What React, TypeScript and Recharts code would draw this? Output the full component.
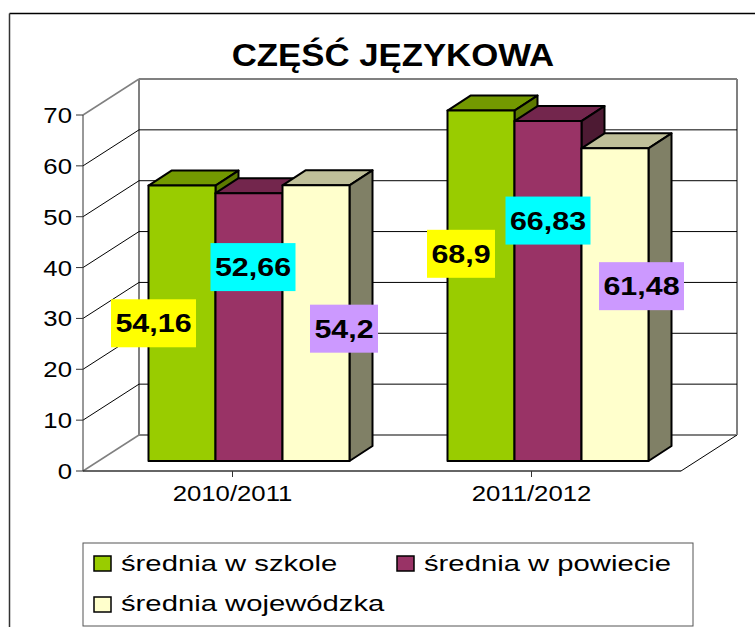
import React from "react"
import { BarChart, Bar, XAxis, YAxis, CartesianGrid, LabelList, Legend } from "recharts"

const years = ["2010/2011", "2011/2012"]
const szkola = [54.16, 68.9]
const powiat = [52.66, 66.83]
const wojewodztwo = [54.2, 61.48]
const yTicks = [0, 10, 20, 30, 40, 50, 60, 70]
const title = "CZĘŚĆ JĘZYKOWA"

const data = years.map((year, i) => ({
  year,
  szkola: szkola[i],
  powiat: powiat[i],
  wojewodztwo: wojewodztwo[i],
}))

const FONT = "'Liberation Sans', Arial, sans-serif"
// the source picture is stretched sideways a bit
const STRETCH = 1.17

// 3D look: back wall offset and bar depth
const WALL = { dx: 56, dy: -36 }
const DEPTH = { dx: 23, dy: -15 }
const BAR_SHIFT = { dx: 16, dy: -10 }
const PLOT_W = 598
const PLOT_H = 356

// hand-moved data labels, offset from the middle of each bar
const szkolaOffsets = [[-28.5, 0], [-20, -32]]
const powiatOffsets = [[4, -60], [0, -70.5]]
const wojOffsets = [[28, 5.5], [26.5, -18.5]]

// where each legend entry goes
const legendSpots = [
  { sx: 94, sy: 556, tx: 121, ty: 571 },
  { sx: 397, sy: 556, tx: 424, ty: 571 },
  { sx: 94, sy: 597, tx: 121, ty: 611 },
]

const SText = ({ x, y, size, bold, children, anchor = "middle", stretch = STRETCH }: any) => (
  <text
    transform={`translate(${x},${y}) scale(${stretch},1)`}
    textAnchor={anchor}
    fontFamily={FONT}
    fontSize={size}
    fontWeight={bold ? 700 : 400}
    fill="#000"
  >
    {children}
  </text>
)

const Bar3D = (props: any) => {
  const { x, y, width, height, fill, topFill, sideFill } = props
  const l = x + BAR_SHIFT.dx
  const t = y + BAR_SHIFT.dy
  const r = l + width
  const b = t + height
  const { dx, dy } = DEPTH
  return (
    <g stroke="#000" strokeWidth={2} strokeLinejoin="round">
      <polygon points={`${l},${t} ${l + dx},${t + dy} ${r + dx},${t + dy} ${r},${t}`} fill={topFill} />
      <polygon points={`${r},${t} ${r + dx},${t + dy} ${r + dx},${b + dy} ${r},${b}`} fill={sideFill} />
      <rect x={l} y={t} width={width} height={height} fill={fill} />
    </g>
  )
}

const makeLabel = (bg: string, offsets: number[][]) => (props: any) => {
  const { x, y, width, height, value, index } = props
  const text = String(value).replace(".", ",")
  const cx = x + BAR_SHIFT.dx + width / 2 + offsets[index][0]
  const cy = y + BAR_SHIFT.dy + height / 2 + offsets[index][1]
  const w = text.length >= 5 ? 85 : 68
  const h = 48
  return (
    <g>
      <rect x={cx - w / 2} y={cy - h / 2} width={w} height={h} fill={bg} />
      <SText x={cx} y={cy + 9} size={26} bold>
        {text}
      </SText>
    </g>
  )
}

// one grid line = diagonal on the side wall + line on the back wall
const WallLine = (props: any) => {
  const { x1, y1 } = props
  const bx = x1 + WALL.dx
  const by = y1 + WALL.dy
  const isTop = Math.abs(y1 - 115) < 1
  const isFloor = Math.abs(y1 - 471) < 1
  const grey = isTop || isFloor
  return (
    <g>
      <line x1={x1} y1={y1} x2={bx} y2={by} stroke={grey ? "#808080" : "#000"} strokeWidth={grey ? 1.5 : 1} />
      <line x1={bx} y1={by} x2={bx + PLOT_W} y2={by} stroke={grey ? "#808080" : "#000"} strokeWidth={grey ? 2 : 1} />
      {isFloor && (
        <>
          <line x1={x1 + PLOT_W} y1={y1} x2={bx + PLOT_W} y2={by} stroke="#000" strokeWidth={1} />
          <line x1={bx} y1={by} x2={bx} y2={by - PLOT_H} stroke="#808080" strokeWidth={2} />
          <line x1={bx + PLOT_W} y1={by} x2={bx + PLOT_W} y2={by - PLOT_H} stroke="#808080" strokeWidth={2} />
        </>
      )}
    </g>
  )
}

const YTick = ({ x, y, payload }: any) => (
  <SText x={x - 2} y={y + 8} size={22} anchor="end">
    {payload.value}
  </SText>
)

const XTick = ({ x, y, payload }: any) => (
  <SText x={x} y={y + 22} size={22}>
    {payload.value}
  </SText>
)

const LegendBox = ({ payload }: any) => (
  <svg width={755} height={627} style={{ position: "absolute", left: 0, top: 0 }}>
    <rect x={83} y={543} width={610} height={83} fill="#fff" stroke="#555" strokeWidth={1} />
    {(payload || []).map((it: any, i: number) => (
      <g key={it.value}>
        <rect x={legendSpots[i].sx} y={legendSpots[i].sy} width={17} height={15} fill={it.color} stroke="#000" strokeWidth={1.5} />
        <SText x={legendSpots[i].tx} y={legendSpots[i].ty} size={22} anchor="start" stretch={1.33}>
          {it.value}
        </SText>
      </g>
    ))}
  </svg>
)

export default function App() {
  return (
    <div style={{ position: "absolute", left: 0, top: 0, width: 755, height: 627, background: "#fff", overflow: "hidden" }}>
      <BarChart
        width={755}
        height={627}
        data={data}
        margin={{ top: 115, right: 74, bottom: 126, left: 0 }}
        barCategoryGap={49.5}
        barGap={0}
      >
        <text transform="translate(393,66) scale(1.14,1)" textAnchor="middle" fontFamily={FONT} fontSize={30.5} fontWeight={700} fill="#000">
          {title}
        </text>
        <line x1={9.5} y1={13.5} x2={755} y2={13.5} stroke="#000" strokeWidth={1.5} />
        <line x1={9.5} y1={13.5} x2={9.5} y2={627} stroke="#333" strokeWidth={1.5} />
        <CartesianGrid horizontal={(p: any) => <WallLine key={p.key} {...p} />} vertical={false} />
        <XAxis
          dataKey="year"
          height={30}
          axisLine={{ stroke: "#333", strokeWidth: 1.5 }}
          tickLine={{ stroke: "#333", strokeWidth: 1 }}
          tickSize={6}
          tick={<XTick />}
          interval={0}
        />
        <YAxis
          width={83}
          domain={[0, 70]}
          ticks={yTicks}
          axisLine={{ stroke: "#333", strokeWidth: 1 }}
          tickLine={{ stroke: "#333", strokeWidth: 1 }}
          tickSize={7}
          tick={<YTick />}
          interval={0}
        />
        <Bar dataKey="szkola" name="średnia w szkole" fill="#99CC00" isAnimationActive={false} shape={<Bar3D topFill="#739900" sideFill="#5C7A00" />}>
          <LabelList dataKey="szkola" content={makeLabel("#FFFF00", szkolaOffsets)} />
        </Bar>
        <Bar dataKey="powiat" name="średnia w powiecie" fill="#993366" isAnimationActive={false} shape={<Bar3D topFill="#73264D" sideFill="#4D1A33" />}>
          <LabelList dataKey="powiat" content={makeLabel("#00FFFF", powiatOffsets)} />
        </Bar>
        <Bar dataKey="wojewodztwo" name="średnia wojewódzka" fill="#FFFFCC" isAnimationActive={false} shape={<Bar3D topFill="#BFBF99" sideFill="#808066" />}>
          <LabelList dataKey="wojewodztwo" content={makeLabel("#CC99FF", wojOffsets)} />
        </Bar>
        <Legend
          itemSorter={null}
          content={(p: any) => <LegendBox payload={p.payload} />}
          wrapperStyle={{ position: "absolute", left: 0, top: 0, width: 0, height: 0, pointerEvents: "none" }}
        />
      </BarChart>
    </div>
  )
}
